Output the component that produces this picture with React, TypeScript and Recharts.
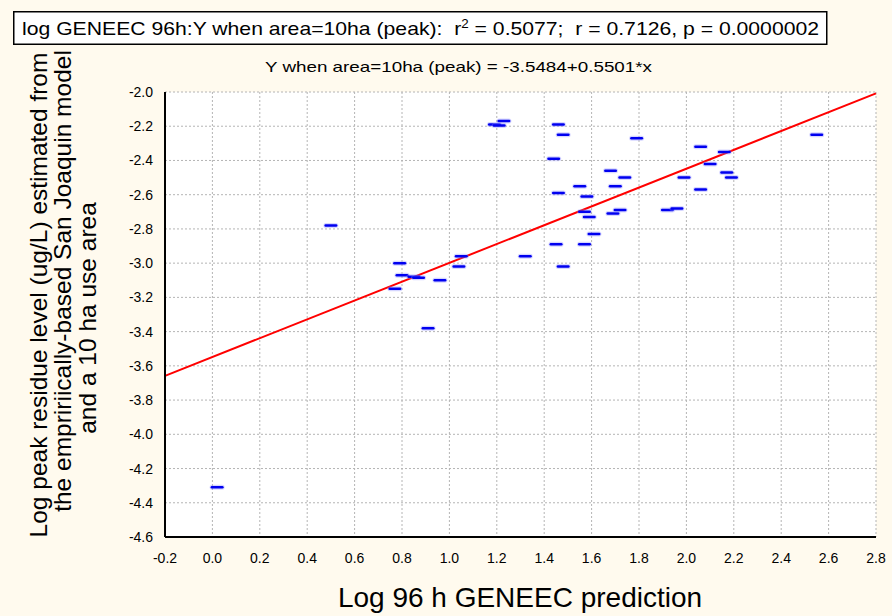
import React from 'react';
import { ScatterChart, Scatter, XAxis, YAxis, CartesianGrid, ReferenceLine } from 'recharts';

// ---- data ----
const xMajorTicks = [-0.2, 0, 0.2, 0.4, 0.6, 0.8, 1.0, 1.2, 1.4, 1.6, 1.8, 2.0, 2.2, 2.4, 2.6, 2.8];
const xAllTicks = [-0.2, -0.1, 0, 0.1, 0.2, 0.3, 0.4, 0.5, 0.6, 0.7, 0.8, 0.9, 1.0, 1.1, 1.2, 1.3, 1.4, 1.5, 1.6, 1.7, 1.8, 1.9, 2.0, 2.1, 2.2, 2.3, 2.4, 2.5, 2.6, 2.7, 2.8];
const yMajorTicks = [-4.6, -4.4, -4.2, -4.0, -3.8, -3.6, -3.4, -3.2, -3.0, -2.8, -2.6, -2.4, -2.2, -2.0];
const yAllTicks = [-4.6, -4.5, -4.4, -4.3, -4.2, -4.1, -4.0, -3.9, -3.8, -3.7, -3.6, -3.5, -3.4, -3.3, -3.2, -3.1, -3.0, -2.9, -2.8, -2.7, -2.6, -2.5, -2.4, -2.3, -2.2, -2.1, -2.0];

const geneecX = [0.02, 0.50, 0.79, 0.80, 0.77, 0.85, 0.87, 0.96, 1.05, 1.04, 0.91, 1.19, 1.21, 1.23, 1.46, 1.48, 1.79, 1.44, 2.06, 2.16, 2.10, 2.17, 2.19, 1.99, 2.06, 1.68, 1.74, 1.55, 1.70, 1.46, 1.58, 1.57, 1.59, 1.69, 1.72, 1.92, 1.96, 1.61, 1.45, 1.57, 1.32, 1.48, 2.55];
const peakY = [-4.31, -2.78, -3.00, -3.07, -3.15, -3.08, -3.085, -3.10, -2.96, -3.02, -3.38, -2.19, -2.195, -2.17, -2.19, -2.25, -2.27, -2.39, -2.32, -2.35, -2.42, -2.47, -2.50, -2.50, -2.57, -2.46, -2.50, -2.55, -2.55, -2.59, -2.61, -2.70, -2.73, -2.71, -2.69, -2.69, -2.68, -2.83, -2.89, -2.89, -2.96, -3.02, -2.25];

const regression = [{ x: -0.2, y: -3.6584 }, { x: 2.8, y: -2.0081 }];

const points = geneecX.map((x, i) => ({ x, y: peakY[i] }));

const titleText = 'log GENEEC 96h:Y when area=10ha (peak):  r';
const titleRest = ' = 0.5077;  r = 0.7126, p = 0.0000002';
const subTitle = 'Y when area=10ha (peak) = -3.5484+0.5501*x';
const xTitle = 'Log 96 h GENEEC prediction';
const yTitleLines = [
  'Log peak residue level (ug/L) estimated from',
  'the empririically-based San Joaquin model',
  'and a 10 ha use area',
];

// ---- layout ----
const W = 892;
const H = 616;
const PLOT_W = 711;
const PLOT_H = 445;
const BG = '#fffaee';
const FONT = "'Liberation Sans', Arial, sans-serif";

const isMajor = (v: number) => Math.abs(Math.round(v * 10)) % 2 === 0;

const XLabelTick = (props: any) => {
  const { x, y, payload } = props;
  return (
    <text x={x} y={y + 26} textAnchor="middle" fontSize={14} fontFamily={FONT} fill="#000">
      {Number(payload.value).toFixed(1)}
    </text>
  );
};

const YLabelTick = (props: any) => {
  const { x, y, payload } = props;
  return (
    <text x={x - 12} y={y + 5} textAnchor="end" fontSize={14} fontFamily={FONT} fill="#000">
      {Number(payload.value).toFixed(1)}
    </text>
  );
};

const XFrameTick = (props: any) => {
  const { x, y, payload } = props;
  const len = isMajor(payload.value) ? 6 : 4;
  return (
    <g>
      <line x1={x} y1={y} x2={x} y2={y + len} stroke="#000" strokeWidth={2} />
      <line x1={x} y1={y + PLOT_H} x2={x} y2={y + PLOT_H - len} stroke="#000" strokeWidth={2} />
    </g>
  );
};

const YFrameTick = (props: any) => {
  const { x, y, payload } = props;
  const len = isMajor(payload.value) ? 6 : 4;
  return (
    <g>
      <line x1={x} y1={y} x2={x - len} y2={y} stroke="#000" strokeWidth={2} />
      <line x1={x - PLOT_W} y1={y} x2={x - PLOT_W + len} y2={y} stroke="#000" strokeWidth={2} />
    </g>
  );
};

const Dash = (props: any) => {
  const { cx, cy } = props;
  if (cx == null || cy == null) return null;
  return (
    <g>
      <rect x={cx - 7.5} y={cy - 2.5} width={15} height={5} rx={2.5} fill="#8a8aff" opacity={0.35} />
      <rect x={cx - 6.5} y={cy - 1.25} width={13} height={2.5} rx={1.25} fill="#0000f0" />
    </g>
  );
};

export default function App() {
  return (
    <div style={{ position: 'absolute', left: 0, top: 0, width: W, height: H, background: BG, overflow: 'hidden' }}>
      <ScatterChart
        width={W}
        height={H}
        margin={{ top: 92, right: 16, bottom: 49, left: 105 }}
      >
        <CartesianGrid
          xAxisId="x"
          yAxisId="y"
          stroke="#b4b4b4"
          strokeDasharray="2 2"
          fill="#ffffff"
        />
        <XAxis
          xAxisId="x"
          dataKey="x"
          type="number"
          domain={[-0.2, 2.8]}
          ticks={xMajorTicks}
          interval={0}
          allowDataOverflow
          height={30}
          tickSize={0}
          tickMargin={0}
          tickLine={false}
          axisLine={{ stroke: '#000', strokeWidth: 2 }}
          tick={<XLabelTick />}
        />
        <XAxis
          xAxisId="t"
          orientation="top"
          type="number"
          domain={[-0.2, 2.8]}
          ticks={xAllTicks}
          interval={0}
          allowDataOverflow
          height={0}
          tickSize={0}
          tickMargin={0}
          tickLine={false}
          axisLine={{ stroke: '#000', strokeWidth: 2 }}
          tick={<XFrameTick />}
        />
        <YAxis
          yAxisId="y"
          dataKey="y"
          type="number"
          domain={[-4.6, -2.0]}
          ticks={yMajorTicks}
          interval={0}
          allowDataOverflow
          width={60}
          tickSize={0}
          tickMargin={0}
          tickLine={false}
          axisLine={{ stroke: '#000', strokeWidth: 2 }}
          tick={<YLabelTick />}
        />
        <YAxis
          yAxisId="r"
          orientation="right"
          type="number"
          domain={[-4.6, -2.0]}
          ticks={yAllTicks}
          interval={0}
          allowDataOverflow
          width={0}
          tickSize={0}
          tickMargin={0}
          tickLine={false}
          axisLine={{ stroke: '#000', strokeWidth: 2 }}
          tick={<YFrameTick />}
        />
        <ReferenceLine
          xAxisId="x"
          yAxisId="y"
          segment={regression}
          stroke="#ff0000"
          strokeWidth={2}
          ifOverflow="visible"
        />
        <Scatter
          xAxisId="x"
          yAxisId="y"
          data={points}
          shape={<Dash />}
          isAnimationActive={false}
        />
      </ScatterChart>

      <svg
        width={W}
        height={H}
        style={{ position: 'absolute', left: 0, top: 0, pointerEvents: 'none' }}
      >
        <rect x={13.75} y={11.75} width={813} height={32.5} fill="#fff" stroke="#000" strokeWidth={1.5} />
        <text
          x={22}
          y={35}
          fontFamily={FONT}
          fontSize={19}
          fill="#000"
          textLength={797}
          lengthAdjust="spacingAndGlyphs"
          style={{ whiteSpace: 'pre' }}
        >
          {titleText}
          <tspan dy={-7} fontSize={12}>2</tspan>
          <tspan dy={7}>{titleRest}</tspan>
        </text>
        <text x={265} y={72} fontFamily={FONT} fontSize={15} fill="#000" textLength={387} lengthAdjust="spacingAndGlyphs">
          {subTitle}
        </text>
        <text x={520} y={607} textAnchor="middle" fontFamily={FONT} fontSize={28} fill="#000">
          {xTitle}
        </text>
        <text transform="translate(47,295) rotate(-90)" textAnchor="middle" fontFamily={FONT} fontSize={24.5} fill="#000">
          {yTitleLines[0]}
        </text>
        <text transform="translate(71,281) rotate(-90)" textAnchor="middle" fontFamily={FONT} fontSize={24.5} fill="#000">
          {yTitleLines[1]}
        </text>
        <text transform="translate(96,318) rotate(-90)" textAnchor="middle" fontFamily={FONT} fontSize={24.5} fill="#000">
          {yTitleLines[2]}
        </text>
      </svg>
    </div>
  );
}
